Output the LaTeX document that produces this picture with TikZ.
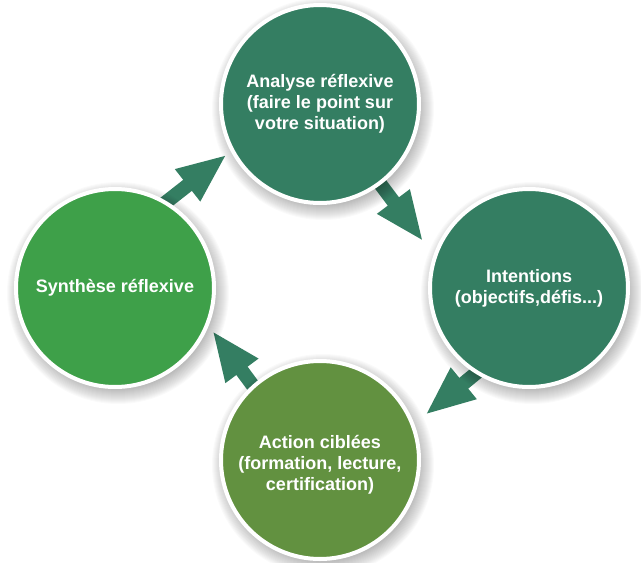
\documentclass[tikz,border=0pt]{standalone}
\usepackage{fontspec}
\setmainfont{Liberation Sans}
\usetikzlibrary{arrows.meta}
\definecolor{tealstage}{RGB}{52,126,98}
\definecolor{greenstage}{RGB}{62,160,73}
\definecolor{olivestage}{RGB}{98,145,64}
\definecolor{arrowcol}{RGB}{52,126,98}
\pgfdeclarelayer{bg}
\pgfdeclarelayer{shadowlayer}
\pgfsetlayers{bg,shadowlayer,main}
\tikzset{
  stage/.style={circle, minimum size=198pt, inner sep=0pt, outer sep=2pt,
    draw=white, line width=4pt, text=white, align=center,
    font=\bfseries\fontsize{18}{21}\selectfont},
  cyclearrow/.style={draw=arrowcol, line width=14pt,
    -{Triangle[length=50pt,width=37pt]}, shorten <=-20pt},
  softshadow/.style={fill=black, opacity=0.018}
}
\begin{document}
\begin{tikzpicture}[x=1pt,y=-1pt]
  \useasboundingbox (0,0) rectangle (641,563);
  \node[stage, fill=tealstage]  (top)    at (320,104) {Analyse réflexive\\(faire le point sur\\votre situation)};
  \node[stage, fill=tealstage]  (right)  at (529,288) {Intentions\\(objectifs,défis...)};
  \node[stage, fill=olivestage] (bottom) at (320,460) {\raisebox{-9.5pt}[0pt][0pt]{\begin{tabular}{@{}c@{}}Action ciblées\\(formation, lecture,\\certification)\end{tabular}}};
  \node[stage, fill=greenstage] (left)   at (115,288) {Synthèse réflexive};
  \begin{pgfonlayer}{shadowlayer}
    \foreach \c in {top,right,bottom,left}{
      \foreach \r in {96,97,...,111}{
        \fill[softshadow] (\c.center) ++(3,5) circle[radius=\r pt];
      }
    }
  \end{pgfonlayer}
  \begin{pgfonlayer}{bg}
    \draw[cyclearrow, shorten >=5pt]  (left.59.1)    -- (top.208.3);
    \draw[cyclearrow, shorten >=17pt] (top.-53)      -- (right.161.4);
    \draw[cyclearrow, shorten >=14pt] (right.238.4)  -- (bottom.21.1);
    \draw[cyclearrow, shorten >=6pt]  (bottom.132.3) -- (left.-22.7);
  \end{pgfonlayer}
\end{tikzpicture}
\end{document}
